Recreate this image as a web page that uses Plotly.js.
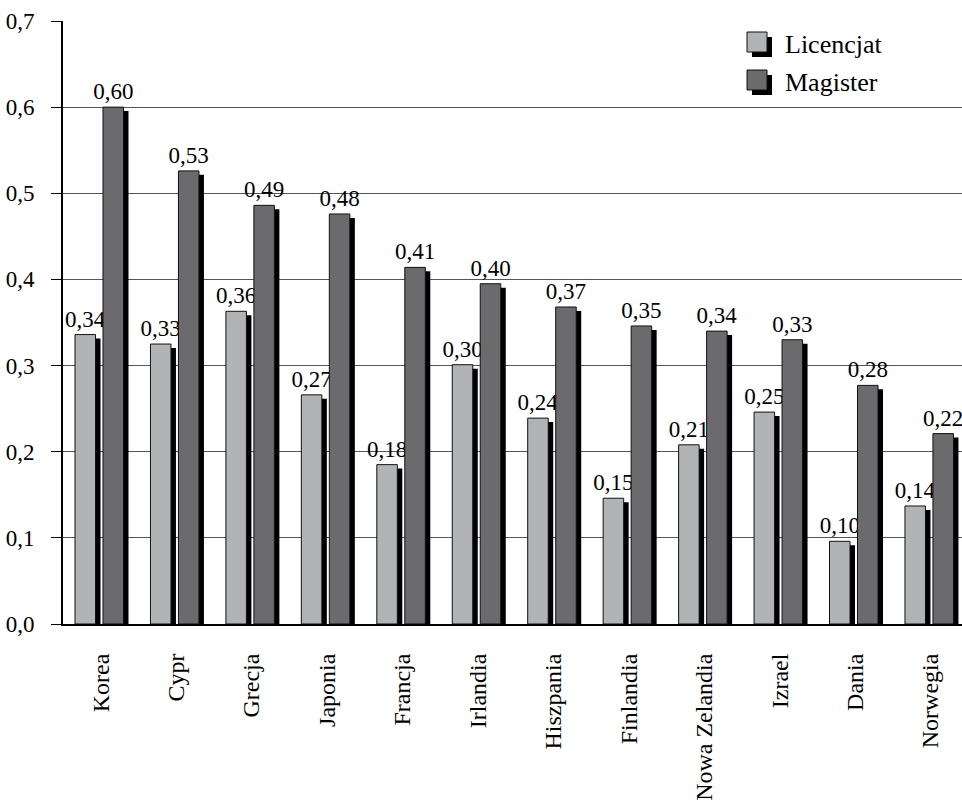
<!DOCTYPE html>
<html>
<head>
<meta charset="utf-8">
<script src="https://cdn.plot.ly/plotly-3.0.1.min.js"></script>
<style>html,body{margin:0;padding:0;background:#fff;}#chart{width:962px;height:806px;}</style>
</head>
<body>
<div id="chart"></div>
<script>
var categories = ["Korea","Cypr","Grecja","Japonia","Francja","Irlandia","Hiszpania","Finlandia","Nowa Zelandia","Izrael","Dania","Norwegia"];
var licencjat = [0.336,0.325,0.363,0.266,0.185,0.301,0.239,0.146,0.208,0.246,0.096,0.137];
var magister  = [0.600,0.526,0.486,0.476,0.414,0.395,0.368,0.346,0.340,0.330,0.277,0.221];
var seriesNames = ["Licencjat","Magister"];
var yTicks = [0,0.1,0.2,0.3,0.4,0.5,0.6,0.7];
var yTickText = ["0,0","0,1","0,2","0,3","0,4","0,5","0,6","0,7"];

var FONT = "'Liberation Serif', 'Times New Roman', serif";
var lightCol = "#b1b3b5", darkCol = "#6b6b6e", shadowCol = "#000000";
var barW = 0.272, offL = -0.341, offD = 0.03, shX = 0.066, shY = 0.0046;

function shadow(vals){ return vals.map(function(v){ return v - shY; }); }

var traces = [
  {type:"bar", x:categories, y:shadow(licencjat), width:barW, offset:offL+shX, marker:{color:shadowCol}, showlegend:false, hoverinfo:"skip"},
  {type:"bar", x:categories, y:shadow(magister), width:barW, offset:offD+shX, marker:{color:shadowCol}, showlegend:false, hoverinfo:"skip"},
  {type:"bar", name:seriesNames[0], x:categories, y:licencjat, width:barW, offset:offL,
   marker:{color:lightCol, line:{color:"#111", width:1}}, texttemplate:"%{y:.2f}", textposition:"outside", constraintext:"none",
   textfont:{family:FONT, size:23, color:"#000"}, showlegend:false, cliponaxis:false},
  {type:"bar", name:seriesNames[1], x:categories, y:magister, width:barW, offset:offD,
   marker:{color:darkCol, line:{color:"#111", width:1}}, texttemplate:"%{y:.2f}", textposition:"outside", constraintext:"none",
   textfont:{family:FONT, size:23, color:"#000"}, showlegend:false, cliponaxis:false}
];

// legend drawn with shapes (pixel -> paper helpers)
var L = 63, R = 962, T = 21, B = 624;
function px(x){ return (x - L) / (R - L); }
function py(y){ return (B - y) / (B - T); }
var shapes = [], annotations = [];
[[32, lightCol, seriesNames[0]], [70, darkCol, seriesNames[1]]].forEach(function(it){
  var y0 = it[0];
  shapes.push({type:"rect", xref:"paper", yref:"paper", x0:px(752), x1:px(772), y0:py(y0+25), y1:py(y0+5), fillcolor:"#000", line:{width:0}});
  shapes.push({type:"rect", xref:"paper", yref:"paper", x0:px(747), x1:px(767), y0:py(y0+20), y1:py(y0), fillcolor:it[1], line:{color:"#111", width:1}});
  annotations.push({xref:"paper", yref:"paper", x:px(783), y:py(y0+12), xanchor:"left", yanchor:"middle", text:it[2], showarrow:false, font:{family:FONT, size:26, color:"#000"}});
});

var layout = {
  width:962, height:806,
  margin:{l:L, r:962-R, t:T, b:806-B, pad:0},
  paper_bgcolor:"#fff", plot_bgcolor:"#fff",
  separators:",.",
  barmode:"overlay",
  showlegend:false,
  hovermode:false,
  font:{family:FONT, size:24, color:"#000"},
  xaxis:{type:"category", range:[-0.5, 11.415], tickangle:-90, ticks:"", showgrid:false,
         showline:true, linecolor:"#000", linewidth:2, ticklabelstandoff:18,
         tickfont:{family:FONT, size:24, color:"#000"}, fixedrange:true},
  yaxis:{range:[0,0.7], tickvals:yTicks, ticktext:yTickText, ticks:"outside", ticklen:10, tickcolor:"#000", tickwidth:1,
         showline:true, linecolor:"#000", linewidth:2, showgrid:true, gridcolor:"#555", gridwidth:1,
         zeroline:false, ticklabelstandoff:12, tickfont:{family:FONT, size:23, color:"#000"}, fixedrange:true},
  shapes:shapes, annotations:annotations
};

Plotly.newPlot("chart", traces, layout, {staticPlot:true, displayModeBar:false});
</script>
</body>
</html>
